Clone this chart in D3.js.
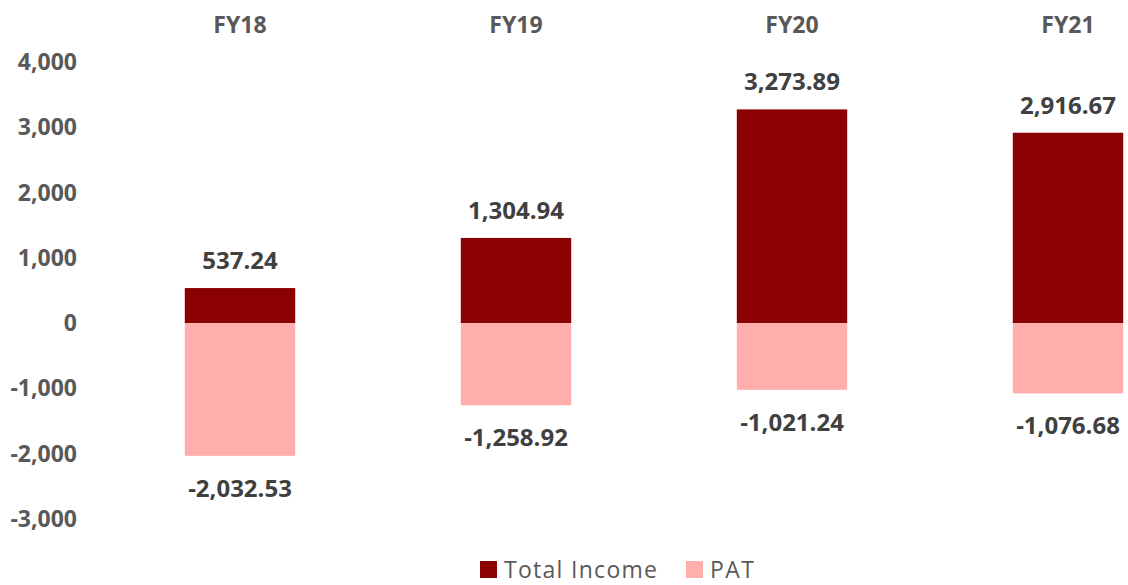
<!DOCTYPE html>
<html>
<head>
<meta charset="utf-8">
<script src="https://cdn.jsdelivr.net/npm/d3@7"></script>
<style>
  body { margin: 0; background: #fff; }
  text { font-family: "Open Sans", sans-serif; }
</style>
</head>
<body>
<div id="chart"></div>
<script>
const years = ["FY18", "FY19", "FY20", "FY21"];
const totalIncome = [537.24, 1304.94, 3273.89, 2916.67];
const pat = [-2032.53, -1258.92, -1021.24, -1076.68];
const yTicks = [4000, 3000, 2000, 1000, 0, -1000, -2000, -3000];
const seriesNames = ["Total Income", "PAT"];

const width = 1128, height = 585;
const colors = ["#8B0000", "#FFADAD"];

const svg = d3.select("#chart")
    .append("svg")
    .attr("width", width)
    .attr("height", height);

const x = d3.scaleBand()
    .domain(years)
    .range([102, 1206])
    .paddingInner(0.6)
    .paddingOuter(0.3);

// 0 sits at 323px, 4000 at 62px
const y = d3.scaleLinear()
    .domain([-3000, 4000])
    .range([519, 62]);

// plain hyphen for negatives, like the original
const locale = d3.formatLocale({ decimal: ".", thousands: ",", grouping: [3], currency: ["", ""], minus: "-" });
const fmt = locale.format(",.2f");
const fmtTick = locale.format(",");

// y axis labels (no line, no ticks)
svg.append("g")
    .selectAll("text")
    .data(yTicks)
    .join("text")
    .attr("x", 77)
    .attr("y", d => y(d))
    .attr("dy", "0.35em")
    .attr("text-anchor", "end")
    .attr("font-size", 23)
    .attr("font-weight", "bold")
    .attr("fill", "#595959")
    .text(d => fmtTick(d));

// category labels at top
svg.append("g")
    .selectAll("text")
    .data(years)
    .join("text")
    .attr("x", d => x(d) + x.bandwidth() / 2)
    .attr("y", 33)
    .attr("text-anchor", "middle")
    .attr("font-size", 23)
    .attr("font-weight", "bold")
    .attr("fill", "#595959")
    .text(d => d);

// Total Income bars
svg.append("g")
    .selectAll("rect")
    .data(totalIncome)
    .join("rect")
    .attr("x", (d, i) => x(years[i]))
    .attr("y", d => y(d))
    .attr("width", x.bandwidth())
    .attr("height", d => y(0) - y(d))
    .attr("fill", colors[0]);

// PAT bars
svg.append("g")
    .selectAll("rect")
    .data(pat)
    .join("rect")
    .attr("x", (d, i) => x(years[i]))
    .attr("y", y(0))
    .attr("width", x.bandwidth())
    .attr("height", d => y(d) - y(0))
    .attr("fill", colors[1]);

// value labels
svg.append("g")
    .selectAll("text")
    .data(totalIncome)
    .join("text")
    .attr("x", (d, i) => x(years[i]) + x.bandwidth() / 2)
    .attr("y", d => y(d) - 19)
    .attr("text-anchor", "middle")
    .attr("font-size", 24)
    .attr("font-weight", "bold")
    .attr("fill", "#404040")
    .text(d => fmt(d));

svg.append("g")
    .selectAll("text")
    .data(pat)
    .join("text")
    .attr("x", (d, i) => x(years[i]) + x.bandwidth() / 2)
    .attr("y", d => y(d) + 41)
    .attr("text-anchor", "middle")
    .attr("font-size", 24)
    .attr("font-weight", "bold")
    .attr("fill", "#404040")
    .text(d => fmt(d));

// legend
const legendX = [480, 686];
const legend = svg.append("g")
    .selectAll("g")
    .data(seriesNames)
    .join("g")
    .attr("transform", (d, i) => `translate(${legendX[i]}, 561)`);

legend.append("rect")
    .attr("width", 17)
    .attr("height", 17)
    .attr("fill", (d, i) => colors[i]);

legend.append("text")
    .attr("x", 24)
    .attr("y", 17)
    .attr("font-size", 23)
    .attr("fill", "#595959")
    .attr("textLength", d => d === "PAT" ? 44 : 153)
    .text(d => d);
</script>
</body>
</html>
